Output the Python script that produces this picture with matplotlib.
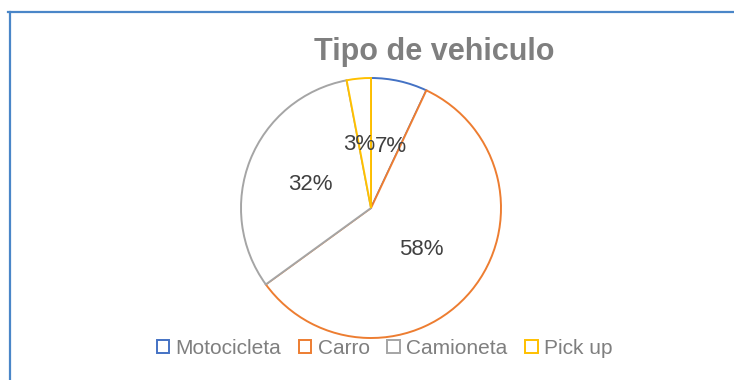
import numpy as np
import matplotlib.pyplot as plt
from matplotlib.lines import Line2D

plt.rcParams['font.family'] = ['Liberation Sans', 'DejaVu Sans']

# Tipo de vehiculo (%)
categorias = ['Motocicleta', 'Carro', 'Camioneta', 'Pick up']
porcentajes = [7, 58, 32, 3]
colores = ['#4472C4', '#ED7D31', '#A5A5A5', '#FFC000']

W, H = 734, 380
fig = plt.figure(figsize=(W / 100, H / 100), dpi=100)

# pie centred at (371, 208) px with radius 130 px
cx, cy, r = 371, 208, 130
ax = fig.add_axes([(cx - r) / W, (H - cy - r) / H, 2 * r / W, 2 * r / H])
wedges, _ = ax.pie(porcentajes, startangle=90, counterclock=False,
                   colors=['white'] * 4,
                   wedgeprops=dict(linewidth=1.4, edgecolor='none'))
for w, c in zip(wedges, colores):
    w.set_edgecolor(c)
ax.set_xlim(-1, 1)
ax.set_ylim(-1, 1)
ax.set_aspect('equal')
ax.axis('off')

# percentage labels at half radius, small slices pushed apart a little
empuje = [-5, 0, 0, 5]
for w, p, d in zip(wedges, porcentajes, empuje):
    ang = np.deg2rad((w.theta1 + w.theta2) / 2 + d)
    ax.text(0.5 * np.cos(ang), 0.5 * np.sin(ang), f'{p}%',
            ha='center', va='center', fontsize=16, color='#404040')

fig.text(434 / W, 1 - 52 / H, 'Tipo de vehiculo', ha='center', va='center',
         fontsize=22, fontweight='bold', color='#7F7F7F')

fig.legend(wedges, categorias, loc='center', ncol=4, frameon=False,
           bbox_to_anchor=(384.5 / W, 1 - 348 / H),
           fontsize=15, labelcolor='#7F7F7F',
           handlelength=0.6, handleheight=0.6, handletextpad=0.3,
           columnspacing=0.85, borderpad=0)

# chart frame (top and left edges)
fig.add_artist(Line2D([8 / W, 1], [1 - 12 / H, 1 - 12 / H],
                      transform=fig.transFigure, color='#4A86C8', lw=1.6))
fig.add_artist(Line2D([10 / W, 10 / W], [0, 1 - 12 / H],
                      transform=fig.transFigure, color='#4A86C8', lw=1.6))

fig.savefig('out.png', dpi=100, facecolor='white')
